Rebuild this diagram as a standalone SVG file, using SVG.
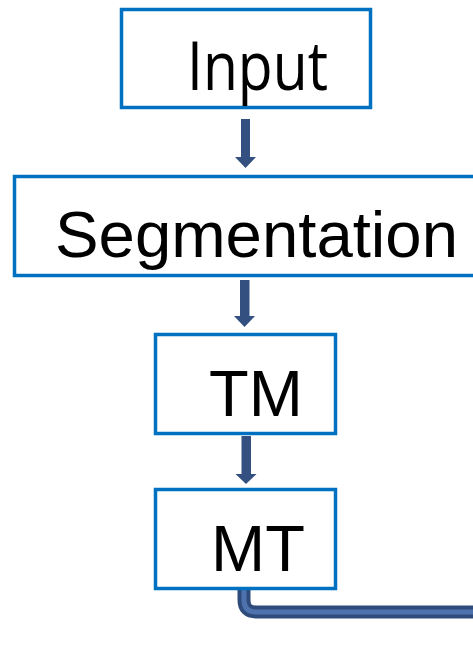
<svg xmlns="http://www.w3.org/2000/svg" width="473" height="657" viewBox="0 0 473 657">
<style>
.box{fill:#fff;stroke:#0070C0;stroke-width:3.5}
.lbl{font-family:"Liberation Sans",Arial,sans-serif;font-size:65px;fill:#000}
.arr{fill:#335080}
.outer{fill:none;stroke:#2F4B7C;stroke-width:13}
.inner{fill:none;stroke:#4E72AE;stroke-width:5}
</style>
<rect width="473" height="657" fill="#fff"/>
<g id="connectors">
<polygon class="arr" points="241,119 250,119 250,157 256,157 245.5,168 235,157 241,157"/>
<polygon class="arr" points="240,280 249.5,280 249.5,316 255,316 244.5,327 234,316 240,316"/>
<polygon class="arr" points="241.5,436 251,436 251,474 256.5,474 246,484 235.5,474 241.5,474"/>
<path class="outer" d="M244 590 V600 Q244 612 256 612 H480"/>
<path class="inner" d="M244 590 V600 Q244 612 256 612 H480"/>
</g>
<g id="input">
<rect class="box" x="121.5" y="9.5" width="249" height="98"/>
<text x="187" y="90" font-family="'Open Sans','Noto Sans',sans-serif" font-size="67" textLength="141" lengthAdjust="spacingAndGlyphs">Input</text>
</g>
<g id="segmentation">
<rect class="box" x="14.5" y="176.5" width="480" height="99"/>
<text class="lbl" x="55" y="257" textLength="403" lengthAdjust="spacingAndGlyphs">Segmentation</text>
</g>
<g id="tm">
<rect class="box" x="155.5" y="334.5" width="180" height="99"/>
<text class="lbl" x="209" y="416">TM</text>
</g>
<g id="mt">
<rect class="box" x="155.5" y="489.5" width="180" height="99"/>
<text class="lbl" x="211" y="571">MT</text>
</g>
</svg>
